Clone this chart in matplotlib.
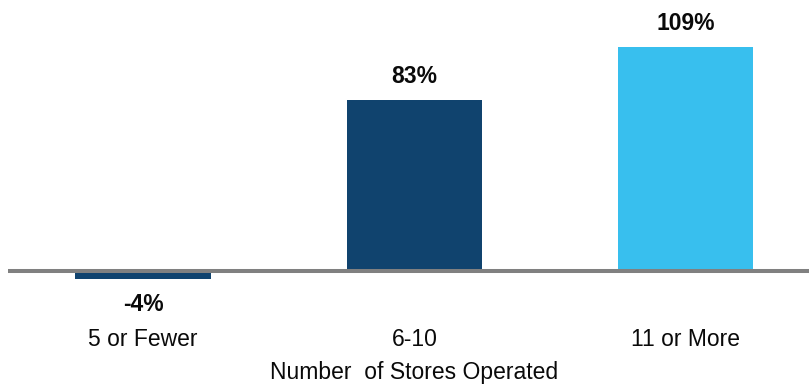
import matplotlib
matplotlib.use("Agg")
import matplotlib.pyplot as plt

categories = ["5 or Fewer", "6-10", "11 or More"]
values = [-4, 83, 109]
value_labels = ["-4%", "83%", "109%"]
colors = ["#10436E", "#10436E", "#38BFEE"]
xlabel = "Number  of Stores Operated"

plt.rcParams['font.family'] = ['Liberation Sans', 'DejaVu Sans']

W, H = 809, 387
fig = plt.figure(figsize=(W / 100, H / 100), dpi=100)
# axes spans x 8..809 px, y 0..290 px (top-down)
ax = fig.add_axes([8 / W, (H - 290) / H, (W - 8) / W, 290 / H])

x = list(range(len(categories)))
ax.bar(x, values, width=0.5, color=colors, zorder=2)
ax.axhline(0, color="#808080", linewidth=2.9, zorder=3)

scale = 2.055  # px per %
ax.set_ylim(-(290 - 271) / scale, 271 / scale)
ax.set_xlim(-0.498, 2.455)

for xi, v, lab in zip(x, values, value_labels):
    off = 17 if v >= 0 else -18
    ax.annotate(lab, (xi, v), xytext=(0, off), textcoords="offset points",
                ha="center", va="center", fontsize=16.5, fontweight="bold",
                color="#0a0a0a")

ax.set_xticks(x)
ax.set_xticklabels(categories, fontsize=16.5, color="#0a0a0a")
ax.tick_params(axis="x", length=0, pad=27)
ax.set_yticks([])
for s in ax.spines.values():
    s.set_visible(False)

fig.text(414 / W, (H - 373) / H, xlabel,
         ha="center", va="center", fontsize=16.5, color="#0a0a0a")

fig.savefig("out.png", dpi=100)
